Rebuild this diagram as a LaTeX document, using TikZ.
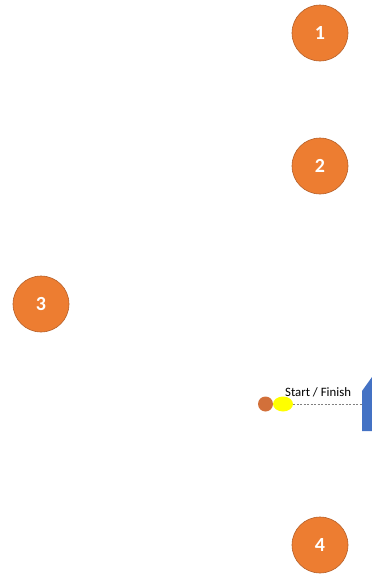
\documentclass[tikz,border=0pt]{standalone}
\usepackage{fontspec}
\setmainfont{Carlito}
\usetikzlibrary{shapes.geometric}
\definecolor{orangefill}{HTML}{ED7D31}
\definecolor{orangeline}{HTML}{B5602A}
\definecolor{smallorange}{HTML}{D2703A}
\definecolor{yellowfill}{HTML}{FFFF00}
\definecolor{blueshape}{HTML}{4472C4}
\begin{document}
\begin{tikzpicture}[x=1pt,y=-1pt,
  numcircle/.style={circle,fill=orangefill,draw=orangeline,line width=0.6pt,minimum size=56pt,inner sep=0pt,text=white,font=\bfseries\fontsize{20}{20}\selectfont}]
\useasboundingbox (0,0) rectangle (372,574);
\node[numcircle] (c1) at (320,33) {1};
\node[numcircle] (c2) at (320,166) {2};
\node[numcircle] (c3) at (41,304) {3};
\node[numcircle] (c4) at (320,545) {4};
\fill[blueshape] (362,391) -- (372,377) -- (372,431) -- (362,431) -- cycle;
\coordinate (lineend) at (362,404);
\node[circle,fill=smallorange,minimum size=15pt,inner sep=0pt] (so) at (265.5,404) {};
\node[ellipse,fill=yellowfill,minimum width=20pt,minimum height=15pt,inner sep=0pt] (sy) at (283,404) {};
\draw[gray,line width=0.7pt,dash pattern=on 2pt off 1.5pt] (sy.east) -- (lineend);
\node[anchor=base west,inner sep=0pt,font=\fontsize{12.8}{13}\selectfont] (lbl) at (285,396) {Start / Finish};
\end{tikzpicture}
\end{document}
